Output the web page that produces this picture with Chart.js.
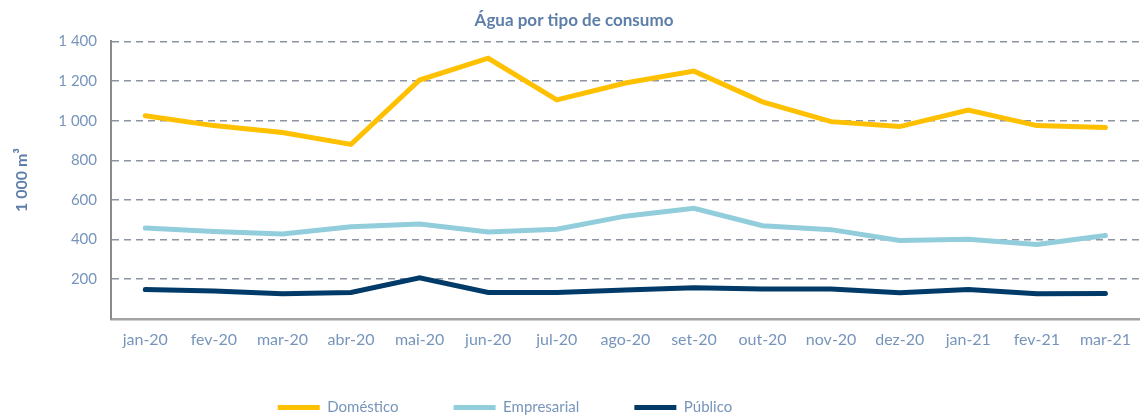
<!DOCTYPE html>
<html><head><meta charset="utf-8">
<script src="https://cdn.jsdelivr.net/npm/chart.js@4.4.1/dist/chart.umd.min.js"></script>
<style>html,body{margin:0;padding:0;background:#fff;overflow:hidden}</style>
</head><body>
<canvas id="c" width="1142" height="416"></canvas>
<script>
const categories = ['jan-20','fev-20','mar-20','abr-20','mai-20','jun-20','jul-20','ago-20','set-20','out-20','nov-20','dez-20','jan-21','fev-21','mar-21'];
const domestico = [1025, 975, 940, 880, 1205, 1315, 1105, 1190, 1250, 1095, 995, 970, 1053, 975, 965];
const empresarial = [458, 440, 428, 465, 478, 438, 452, 518, 558, 470, 450, 395, 402, 375, 420];
const publico = [148, 140, 126, 133, 207, 133, 133, 145, 157, 150, 150, 131, 148, 126, 128];
const yTickValues = [0, 200, 400, 600, 800, 1000, 1200, 1400];
const yTickLabels = ['', '200', '400', '600', '800', '1 000', '1 200', '1 400'];

const FONT = 'Lato, "Open Sans", sans-serif';
const TEXT = '#7795bb';
const TITLE = '#5d7ea8';

const legendShift = {
  id: 'legendShift',
  afterLayout(chart) {
    const lg = chart.legend;
    if (!lg) return;
    lg.top = 345;
    lg.bottom = 416;
    lg.left -= 69; lg.right -= 69;
  }
};

const lineStyle = {borderWidth: 5, borderCapStyle: 'round'};

new Chart(document.getElementById('c'), {
  type: 'line',
  data: {
    labels: categories,
    datasets: [
      Object.assign({label: 'Doméstico', data: domestico, borderColor: '#FFC000', backgroundColor: '#FFC000'}, lineStyle),
      Object.assign({label: 'Empresarial', data: empresarial, borderColor: '#92CDDC', backgroundColor: '#92CDDC'}, lineStyle),
      Object.assign({label: 'Público', data: publico, borderColor: '#003A68', backgroundColor: '#003A68'}, lineStyle)
    ]
  },
  options: {
    responsive: false,
    devicePixelRatio: 1,
    animation: false,
    layout: {padding: {left: 0, right: -6, top: 0, bottom: 0}},
    elements: {
      line: {tension: 0, fill: false},
      point: {radius: 0, hoverRadius: 0}
    },
    plugins: {
      title: {
        display: true, text: 'Água por tipo de consumo',
        color: TITLE, font: {family: FONT, size: 17, weight: 'bold'},
        padding: {top: 10, bottom: 11}
      },
      legend: {
        position: 'bottom',
        maxHeight: 56,
        labels: {
          usePointStyle: true, pointStyle: 'line', pointStyleWidth: 42,
          padding: 55, color: TEXT, font: {family: FONT, size: 15}
        }
      },
      tooltip: {enabled: false}
    },
    scales: {
      x: {
        offset: true,
        grid: {display: true, drawOnChartArea: false, drawTicks: false},
        border: {display: true, color: '#a3a3a3', width: 2.5},
        ticks: {color: TEXT, font: {family: FONT, size: 16}, padding: 11, maxRotation: 0, autoSkip: false}
      },
      y: {
        min: 0, max: 1400,
        afterBuildTicks(axis) { axis.ticks = yTickValues.map(v => ({value: v})); },
        afterFit(axis) { axis.width = 111; },
        grid: {color: '#8e95a2', lineWidth: 1.5, drawTicks: false},
        border: {display: true, color: '#8a8a8a', width: 2, dash: [7, 5]},
        ticks: {
          color: TEXT, font: {family: FONT, size: 15}, padding: 14,
          callback(v) { const i = yTickValues.indexOf(v); return i >= 0 ? yTickLabels[i] : ''; }
        },
        title: {
          display: true, text: '1 000 m³', color: TITLE,
          font: {family: FONT, size: 16, weight: 'bold'},
          padding: {top: 12, bottom: 4}
        }
      }
    }
  },
  plugins: [legendShift]
});
</script>
</body></html>
